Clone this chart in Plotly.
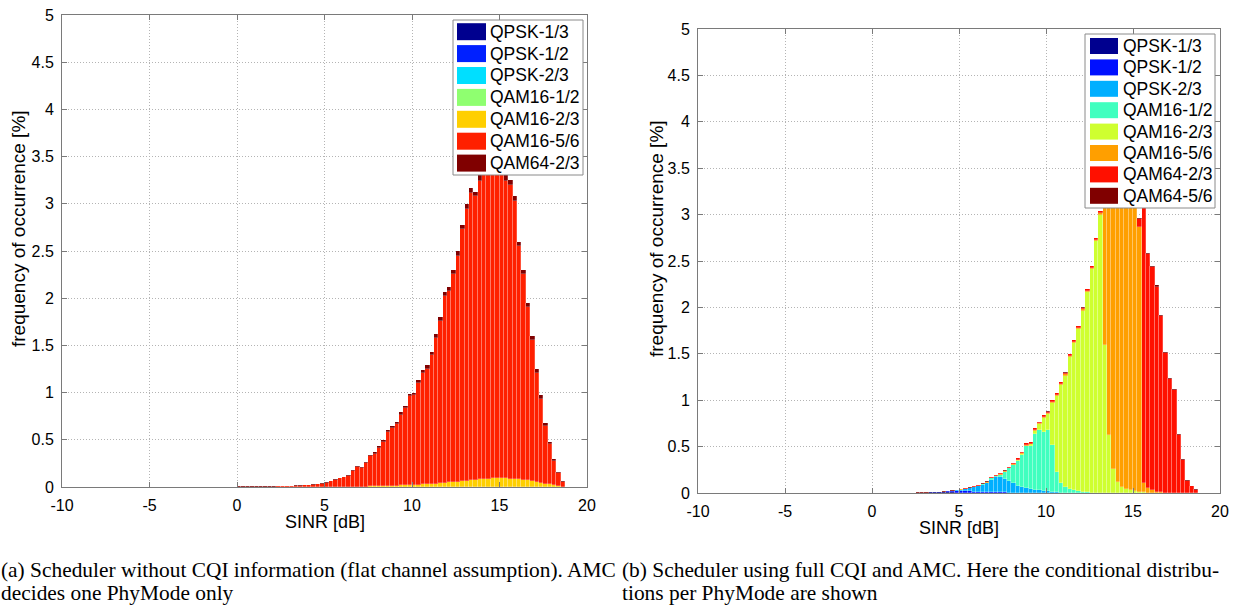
import numpy as np
import plotly.graph_objects as go

W, H = 1239, 608

# SINR histogram bins (left edges, dB) and bin width
bin_width = 0.25
bin_edges = np.arange(-1.0, 19.0, bin_width)
bin_centers = bin_edges + bin_width / 2

# ---- (a) scheduler without CQI: one PhyMode only ----
a_names = ['QPSK-1/3', 'QPSK-1/2', 'QPSK-2/3', 'QAM16-1/2', 'QAM16-2/3', 'QAM16-5/6', 'QAM64-2/3']
a_colors = ['#00008F', '#0020FF', '#00DFFF', '#8FFF70', '#FFCF00', '#FF2000', '#800000']

a_qam16_23 = [0, 0, 0, 0, 0, 0, 0, 0,
              0, 0, 0, 0, 0, 0, 0, 0,
              0, 0, 0, 0, 0, 0, 0, 0,
              0, 0, 0, 0, 0, 0, 0.002, 0.003,
              0.004, 0.005, 0.006, 0.007, 0.008, 0.01, 0.012, 0.013,
              0.015, 0.017, 0.019, 0.021, 0.023, 0.026, 0.028, 0.03,
              0.033, 0.036, 0.04, 0.044, 0.048, 0.052, 0.056, 0.06,
              0.065, 0.07, 0.075, 0.08, 0.085, 0.09, 0.095, 0.1,
              0.1, 0.095, 0.09, 0.085, 0.08, 0.075, 0.07, 0.062,
              0.055, 0.045, 0.035, 0.028, 0.02, 0.012, 0.005, 0]
a_qam16_56 = [0, 0, 0, 0, 0, 0, 0, 0,
              0, 0.001, 0.002, 0.003, 0.005, 0.006, 0.007, 0.008,
              0.011, 0.013, 0.015, 0.018, 0.021, 0.024, 0.028, 0.035,
              0.045, 0.059, 0.074, 0.092, 0.102, 0.12, 0.168, 0.205,
              0.194, 0.251, 0.319, 0.347, 0.404, 0.47, 0.566, 0.615,
              0.651, 0.747, 0.813, 0.939, 0.947, 1.072, 1.178, 1.225,
              1.361, 1.546, 1.72, 1.984, 2.028, 2.202, 2.396, 2.67,
              2.885, 3.048, 3.003, 3.166, 3.31, 3.404, 3.469, 3.444,
              3.294, 3.15, 3.106, 2.943, 2.47, 2.177, 1.834, 1.494,
              1.155, 0.89, 0.615, 0.427, 0.26, 0.133, 0.045, 0]
a_qam64_23 = [0, 0.005, 0.005, 0.005, 0.006, 0.006, 0.006, 0.007,
              0.007, 0.007, 0.006, 0.006, 0.005, 0.005, 0.005, 0.005,
              0.004, 0.004, 0.004, 0.004, 0.004, 0.004, 0.004, 0.005,
              0.005, 0.006, 0.006, 0.008, 0.008, 0.01, 0.01, 0.012,
              0.012, 0.014, 0.015, 0.016, 0.018, 0.02, 0.022, 0.022,
              0.024, 0.026, 0.028, 0.03, 0.03, 0.032, 0.034, 0.035,
              0.036, 0.038, 0.04, 0.042, 0.044, 0.046, 0.048, 0.05,
              0.05, 0.052, 0.052, 0.054, 0.055, 0.056, 0.056, 0.056,
              0.056, 0.055, 0.054, 0.052, 0.05, 0.048, 0.046, 0.044,
              0.04, 0.035, 0.03, 0.025, 0.02, 0.015, 0.01, 0]

# ---- (b) scheduler with full CQI and AMC ----
b_names = ['QPSK-1/3', 'QPSK-1/2', 'QPSK-2/3', 'QAM16-1/2', 'QAM16-2/3', 'QAM16-5/6', 'QAM64-2/3', 'QAM64-5/6']
b_colors = ['#00008F', '#0010FF', '#00AFFF', '#40FFBF', '#CFFF30', '#FF9F00', '#FF1000', '#800000']

b_qpsk_13 = [0, 0, 0, 0, 0, 0, 0, 0,
             0, 0, 0, 0, 0, 0, 0.003, 0.004,
             0.005, 0.006, 0.006, 0.007, 0.007, 0.007, 0.006, 0.005,
             0.004, 0.003, 0.002, 0.001, 0, 0, 0, 0,
             0, 0, 0, 0, 0, 0, 0, 0,
             0, 0, 0, 0, 0, 0, 0, 0,
             0, 0, 0, 0, 0, 0, 0, 0,
             0, 0, 0, 0, 0, 0, 0, 0,
             0, 0, 0, 0, 0, 0, 0, 0,
             0, 0, 0, 0, 0, 0, 0, 0]
b_qpsk_12 = [0, 0, 0, 0, 0, 0, 0, 0,
             0, 0, 0, 0, 0, 0, 0.001, 0.001,
             0, 0, 0.003, 0.005, 0.008, 0.01, 0.012, 0.014,
             0.015, 0.015, 0.015, 0.014, 0.013, 0.012, 0.01, 0.009,
             0.008, 0.007, 0.006, 0.005, 0.004, 0.003, 0.002, 0.002,
             0.001, 0, 0, 0, 0, 0, 0, 0,
             0, 0, 0, 0, 0, 0, 0, 0,
             0, 0, 0, 0, 0, 0, 0, 0,
             0, 0, 0, 0, 0, 0, 0, 0,
             0, 0, 0, 0, 0, 0, 0, 0]
b_qpsk_23 = [0, 0, 0, 0, 0, 0, 0, 0,
             0, 0, 0, 0, 0, 0, 0, 0,
             0, 0, 0, 0, 0, 0.002, 0.005, 0.01,
             0.018, 0.026, 0.036, 0.048, 0.06, 0.075, 0.095, 0.13,
             0.16, 0.17, 0.15, 0.12, 0.1, 0.075, 0.06, 0.05,
             0.04, 0.035, 0.028, 0.022, 0.018, 0.012, 0.008, 0.005,
             0.003, 0.002, 0, 0, 0, 0, 0, 0,
             0, 0, 0, 0, 0, 0, 0, 0,
             0, 0, 0, 0, 0, 0, 0, 0,
             0, 0, 0, 0, 0, 0, 0, 0]
b_qam16_12 = [0, 0, 0, 0, 0, 0, 0, 0,
              0, 0, 0, 0, 0, 0, 0, 0,
              0, 0, 0, 0, 0, 0, 0, 0,
              0, 0, 0, 0, 0.003, 0.005, 0.008, 0.02,
              0.015, 0.02, 0.07, 0.14, 0.2, 0.27, 0.35, 0.45,
              0.47, 0.6, 0.65, 0.64, 0.66, 0.5, 0.22, 0.1,
              0.06, 0.04, 0.03, 0.02, 0.015, 0.01, 0.005, 0.003,
              0, 0, 0, 0, 0, 0, 0, 0,
              0, 0, 0, 0, 0, 0, 0, 0,
              0, 0, 0, 0, 0, 0, 0, 0]
b_qam16_23 = [0, 0, 0, 0, 0, 0, 0, 0,
              0, 0, 0, 0, 0, 0, 0, 0,
              0, 0, 0, 0, 0, 0, 0, 0,
              0, 0, 0, 0, 0, 0, 0, 0,
              0, 0, 0, 0, 0.003, 0.004, 0.005, 0.008,
              0.012, 0.036, 0.062, 0.146, 0.169, 0.453, 0.817, 1.059,
              1.2, 1.421, 1.583, 1.743, 1.948, 2.152, 2.407, 2.709,
              3.0, 1.6, 0.63, 0.26, 0.12, 0.06, 0.04, 0.03,
              0.02, 0.015, 0.01, 0.005, 0, 0, 0, 0,
              0, 0, 0, 0, 0, 0, 0, 0]
b_qam16_56 = [0, 0, 0, 0, 0, 0, 0, 0,
              0, 0, 0, 0, 0, 0, 0, 0,
              0, 0, 0, 0, 0, 0, 0.001, 0.001,
              0.002, 0.002, 0.002, 0.003, 0.003, 0.004, 0.004, 0.005,
              0.005, 0.006, 0.006, 0.007, 0.008, 0.008, 0.009, 0.01,
              0.01, 0.011, 0.011, 0.012, 0.012, 0.013, 0.013, 0.014,
              0.014, 0.015, 0.015, 0.015, 0.015, 0.016, 0.016, 0.016,
              0.015, 1.57, 2.69, 3.16, 3.39, 3.49, 3.5, 3.39,
              3.2, 2.85, 0.1, 0.05, 0.03, 0.015, 0.01, 0.005,
              0, 0, 0, 0, 0, 0, 0, 0]
b_qam64_23 = [0, 0, 0, 0, 0, 0, 0, 0,
              0, 0, 0, 0, 0, 0, 0, 0,
              0, 0, 0, 0, 0, 0, 0.002, 0.002,
              0.003, 0.004, 0.004, 0.005, 0.005, 0.006, 0.006, 0.006,
              0.007, 0.008, 0.009, 0.01, 0.011, 0.012, 0.013, 0.014,
              0.015, 0.016, 0.017, 0.018, 0.019, 0.02, 0.02, 0.02,
              0.02, 0.02, 0.02, 0.02, 0.02, 0.02, 0.02, 0.02,
              0.025, 0.025, 0.025, 0.025, 0.035, 0.045, 0.055, 0.075,
              0.12, 0.09, 2.98, 2.52, 2.41, 2.21, 1.9, 1.505,
              1.23, 1.11, 0.63, 0.36, 0.133, 0.075, 0.037, 0]
b_qam64_56 = [0, 0.005, 0.005, 0.005, 0.005, 0.005, 0.005, 0.005,
              0.005, 0.005, 0.005, 0.005, 0.005, 0.005, 0.003, 0.003,
              0.002, 0.002, 0.002, 0.002, 0.002, 0.002, 0.002, 0.002,
              0.002, 0.002, 0.002, 0.002, 0.002, 0.002, 0.002, 0.002,
              0.002, 0.002, 0.002, 0.002, 0.002, 0.002, 0.002, 0.002,
              0.002, 0.002, 0.002, 0.002, 0.002, 0.002, 0.002, 0.002,
              0.002, 0.002, 0.002, 0.002, 0.002, 0.002, 0.002, 0.002,
              0.003, 0.003, 0.003, 0.003, 0.003, 0.003, 0.003, 0.003,
              0.01, 0.005, 0.01, 0.01, 0.01, 0.015, 0.01, 0.01,
              0.01, 0.01, 0.01, 0.01, 0.007, 0.005, 0.003, 0]

a_series = [('QAM16-2/3', a_qam16_23), ('QAM16-5/6', a_qam16_56), ('QAM64-2/3', a_qam64_23)]
b_series = [('QPSK-1/3', b_qpsk_13), ('QPSK-1/2', b_qpsk_12), ('QPSK-2/3', b_qpsk_23),
            ('QAM16-1/2', b_qam16_12), ('QAM16-2/3', b_qam16_23), ('QAM16-5/6', b_qam16_56),
            ('QAM64-2/3', b_qam64_23), ('QAM64-5/6', b_qam64_56)]

y_ticks = [0, 0.5, 1, 1.5, 2, 2.5, 3, 3.5, 4, 4.5, 5]
y_ticktext = ['0', '0.5', '1', '1.5', '2', '2.5', '3', '3.5', '4', '4.5', '5']
x_ticks = [-10, -5, 0, 5, 10, 15, 20]
x_ticktext = ['-10', '-5', '0', '5', '10', '15', '20']

captions = [
    ['(a) Scheduler without CQI information (flat channel assumption). AMC',
     'decides one PhyMode only'],
    ['(b) Scheduler using full CQI and AMC. Here the conditional distribu-',
     'tions per PhyMode are shown'],
]

fig = go.Figure()

bar_line = dict(width=0.5, color='rgba(255,255,255,0.45)')
for name, vals in a_series:
    fig.add_trace(go.Bar(x=bin_centers, y=vals, width=bin_width, name=name,
                         marker=dict(color=a_colors[a_names.index(name)], line=bar_line),
                         xaxis='x', yaxis='y', showlegend=False))
for name, vals in b_series:
    fig.add_trace(go.Bar(x=bin_centers, y=vals, width=bin_width, name=name,
                         marker=dict(color=b_colors[b_names.index(name)], line=bar_line),
                         xaxis='x2', yaxis='y2', showlegend=False))


def px(x):
    return x / W


def py(y):
    return 1 - y / H


# axes boxes in pixels: (left, right, top, bottom)
boxes = [(62, 587, 15, 487), (698, 1220, 29, 493)]

axis_style = dict(showline=True, linecolor='#7a7a7a', linewidth=1, mirror='ticks',
                  ticks='inside', ticklen=5, tickcolor='#7a7a7a', automargin=False,
                  showgrid=True, gridcolor='#b4b4b4', griddash='1px,2px', gridwidth=1,
                  zeroline=False, tickfont=dict(family='Liberation Sans', size=16, color='black'))

layout = dict(width=W, height=H, margin=dict(l=0, r=0, t=0, b=0, autoexpand=False),
              paper_bgcolor='white', plot_bgcolor='white',
              barmode='stack', bargap=0, showlegend=False)
for i, (l, r, t, b) in enumerate(boxes):
    sfx = '' if i == 0 else str(i + 1)
    layout['xaxis' + sfx] = dict(domain=[px(l), px(r)], range=[-10, 20], tickvals=x_ticks,
                                 ticktext=x_ticktext, anchor='y' + sfx, ticklabelstandoff=4,
                                 **axis_style)
    layout['yaxis' + sfx] = dict(domain=[py(b), py(t)], range=[0, 5], tickvals=y_ticks,
                                 ticktext=y_ticktext, anchor='x' + sfx, ticklabelstandoff=4,
                                 **axis_style)
fig.update_layout(**layout)

annotations = []
shapes = []

# axis titles
xlab_font = dict(family='Liberation Sans', size=18, color='black')
ylab_font = dict(family='Liberation Sans', size=19, color='black')
for (l, r, t, b), ylab_x in zip(boxes, [18, 656]):
    annotations.append(dict(x=px((l + r) / 2), y=py(b + 35), xref='paper', yref='paper',
                            text='SINR [dB]', showarrow=False, font=xlab_font,
                            xanchor='center', yanchor='middle'))
    annotations.append(dict(x=px(ylab_x), y=py((t + b) / 2 - 22), xref='paper', yref='paper',
                            text='frequency of occurrence [%]', showarrow=False, font=ylab_font,
                            textangle=-90, xanchor='center', yanchor='middle'))

# legends drawn by hand (box, swatch, label)
legends = [
    dict(names=a_names, colors=a_colors, box=(453, 583, 20, 175), y0=31.7, dy=21.9,
         sw=(457, 486), sh=17, tx=488),
    dict(names=b_names, colors=b_colors, box=(1085, 1215, 34, 208), y0=46, dy=21.4,
         sw=(1090, 1118), sh=16, tx=1121),
]
for lg in legends:
    l, r, t, b = lg['box']
    shapes.append(dict(type='rect', xref='paper', yref='paper', x0=px(l), x1=px(r),
                       y0=py(b), y1=py(t), fillcolor='white',
                       line=dict(color='#8a8a8a', width=1), layer='above'))
    for k, (nm, col) in enumerate(zip(lg['names'], lg['colors'])):
        yc = lg['y0'] + k * lg['dy']
        shapes.append(dict(type='rect', xref='paper', yref='paper', x0=px(lg['sw'][0]),
                           x1=px(lg['sw'][1]), y0=py(yc + lg['sh'] / 2), y1=py(yc - lg['sh'] / 2),
                           fillcolor=col, line=dict(width=0), layer='above'))
        annotations.append(dict(x=px(lg['tx']), y=py(yc), xref='paper', yref='paper', text=nm,
                                showarrow=False, xanchor='left', yanchor='middle',
                                font=dict(family='Liberation Sans', size=17.5, color='black')))

# captions
cap_font = dict(family='Liberation Serif', size=21.4, color='black')
for cx, lines in zip([0, 621], captions):
    for j, line in enumerate(lines):
        annotations.append(dict(x=px(cx), y=py(570 + 23 * j), xref='paper', yref='paper',
                                text=line, showarrow=False, xanchor='left', yanchor='middle',
                                borderpad=0, font=cap_font))

fig.update_layout(annotations=annotations, shapes=shapes)
fig.write_html("out.html", config={'displayModeBar': False},
               post_script="document.body.style.margin='0';")
